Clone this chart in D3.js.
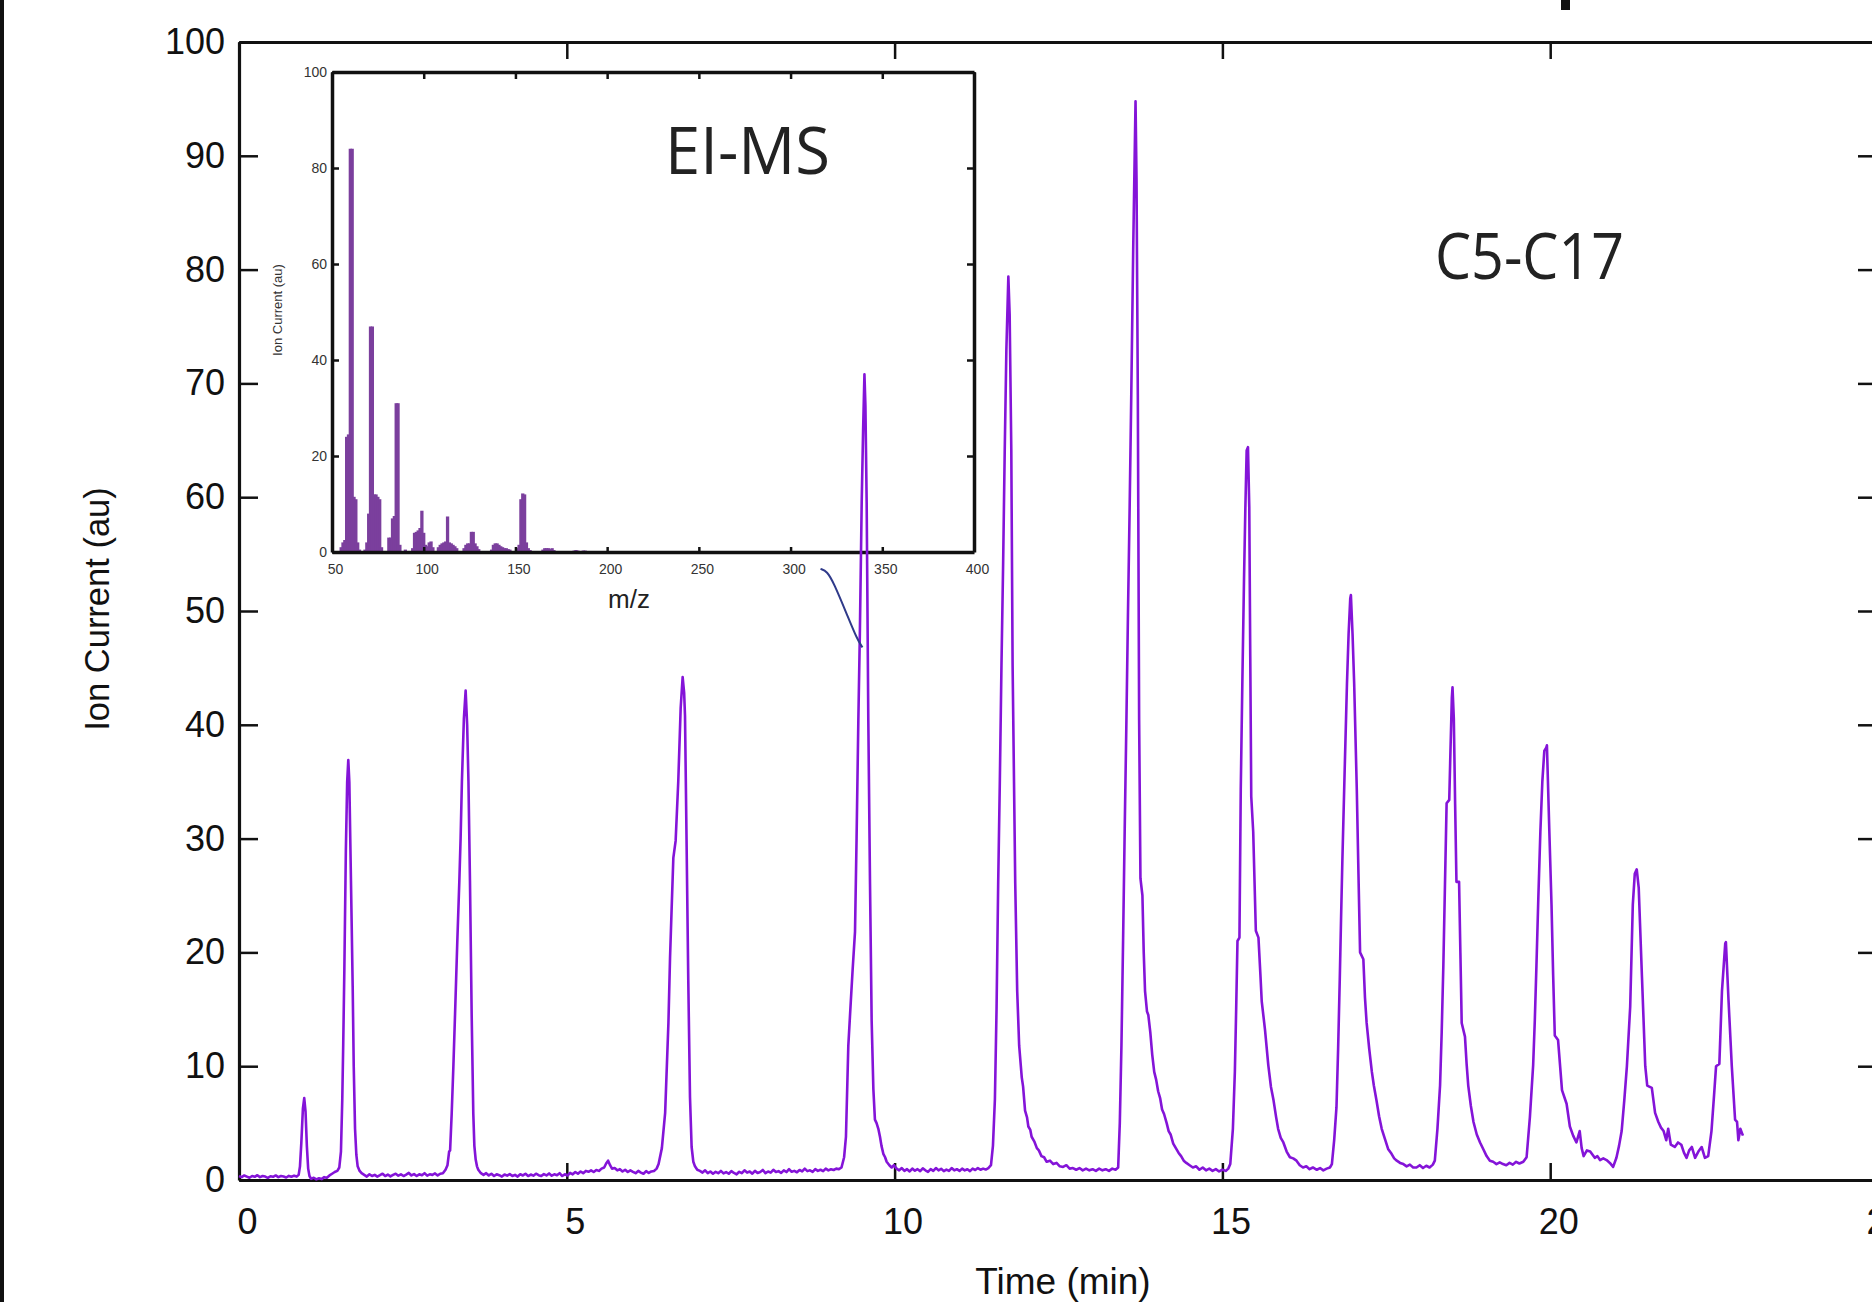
<!DOCTYPE html>
<html>
<head>
<meta charset="utf-8">
<script src="https://cdn.jsdelivr.net/npm/d3@7"></script>
<style>
  html, body { margin: 0; padding: 0; background: #fff; }
  svg { display: block; }
</style>
</head>
<body>
<svg id="chart" width="1872" height="1302"></svg>
<script>
// total ion chromatogram, C5-C17 (time in min, ion current in au)
var timeMin = [
  0.00, 0.04, 0.08, 0.12, 0.16, 0.20, 0.24, 0.28, 0.32, 0.36, 0.40, 0.44, 0.48, 0.52, 0.56, 0.60, 0.64, 0.68, 0.72, 0.76, 0.80, 0.84, 0.88, 0.91,
  0.93, 0.95, 0.975, 0.995, 1.015, 1.035, 1.055, 1.075, 1.10, 1.14, 1.18, 1.22, 1.26, 1.30, 1.34, 1.38, 1.42, 1.46, 1.50, 1.53,
  1.555, 1.575, 1.59, 1.607, 1.63, 1.65, 1.667, 1.683, 1.70, 1.72, 1.734, 1.75, 1.77, 1.79, 1.81, 1.84, 1.87,
  1.91, 1.95, 1.99, 2.03, 2.07, 2.11, 2.15, 2.19, 2.23, 2.27, 2.31, 2.35, 2.39, 2.43, 2.47, 2.51, 2.55, 2.59, 2.63, 2.67, 2.71, 2.75, 2.79, 2.83, 2.87, 2.91, 2.95, 2.99, 3.03, 3.07, 3.11,
  3.15, 3.18, 3.205, 3.22, 3.244, 3.27, 3.295, 3.33, 3.361, 3.38, 3.40, 3.43, 3.457, 3.48, 3.50, 3.523, 3.549, 3.574, 3.59, 3.61, 3.63, 3.65, 3.69,
  3.73, 3.77, 3.81, 3.85, 3.89, 3.93, 3.97, 4.01, 4.05, 4.09, 4.13, 4.17, 4.21, 4.25, 4.29, 4.33, 4.37, 4.41, 4.45, 4.49, 4.53, 4.57, 4.61, 4.65, 4.69, 4.73, 4.77, 4.81, 4.85, 4.89, 4.93, 4.97,
  5.01, 5.05, 5.09, 5.13, 5.17, 5.21, 5.25, 5.29, 5.33, 5.37, 5.41, 5.45, 5.49, 5.53, 5.57, 5.60, 5.63, 5.66, 5.69, 5.73, 5.77, 5.81, 5.85, 5.89, 5.93, 5.97, 6.01, 6.05, 6.09, 6.13, 6.17, 6.21, 6.25, 6.29, 6.33,
  6.37, 6.40, 6.45, 6.50, 6.55, 6.575, 6.60, 6.625, 6.66, 6.70, 6.737, 6.767, 6.79, 6.803, 6.828, 6.853, 6.879, 6.904, 6.93, 6.955, 6.99, 7.03,
  7.07, 7.11, 7.15, 7.19, 7.23, 7.27, 7.31, 7.35, 7.39, 7.43, 7.47, 7.51, 7.55, 7.59, 7.63, 7.67, 7.71, 7.75, 7.79, 7.83, 7.87, 7.91, 7.95, 7.99,
  8.03, 8.07, 8.11, 8.15, 8.19, 8.23, 8.27, 8.31, 8.35, 8.39, 8.43, 8.47, 8.51, 8.55, 8.59, 8.63, 8.67, 8.71, 8.75, 8.79, 8.83, 8.87, 8.91, 8.95, 8.99, 9.03, 9.07, 9.11, 9.15,
  9.19, 9.23, 9.258, 9.294, 9.33, 9.36, 9.396, 9.42, 9.447, 9.47, 9.498, 9.52, 9.54, 9.555, 9.574, 9.599, 9.625, 9.65, 9.676, 9.70, 9.725, 9.752, 9.777, 9.80, 9.828, 9.855, 9.879, 9.92, 9.955, 9.99, 10.03,
  10.07, 10.11, 10.15, 10.19, 10.23, 10.27, 10.31, 10.35, 10.39, 10.43, 10.47, 10.51, 10.55, 10.59, 10.63, 10.67, 10.71, 10.75, 10.79, 10.83, 10.87, 10.91, 10.95, 10.99,
  11.03, 11.07, 11.11, 11.15, 11.19, 11.23, 11.27, 11.31, 11.35, 11.39, 11.43,
  11.47, 11.50, 11.53, 11.555, 11.58, 11.605, 11.63, 11.655, 11.68, 11.705, 11.735, 11.755, 11.78, 11.80, 11.84, 11.87, 11.90, 11.94, 11.96, 11.99, 12.02, 12.04, 12.07, 12.09, 12.13, 12.17, 12.20, 12.24, 12.28, 12.32, 12.37, 12.42, 12.47, 12.52, 12.57, 12.62, 12.67, 12.72, 12.77, 12.82, 12.87, 12.92, 12.97, 13.02, 13.07, 13.12, 13.17, 13.22, 13.27, 13.32, 13.37,
  13.41, 13.435, 13.46, 13.485, 13.51, 13.535, 13.56, 13.585, 13.61, 13.64, 13.675, 13.69, 13.71, 13.73, 13.75, 13.78, 13.80, 13.82, 13.85, 13.87, 13.90, 13.93, 13.96, 13.99, 14.02, 14.05, 14.08, 14.11, 14.15, 14.18, 14.21, 14.25, 14.29, 14.33, 14.37, 14.41, 14.45, 14.50, 14.55, 14.60, 14.65, 14.70, 14.75, 14.80, 14.85, 14.90, 14.95, 15.00, 15.05, 15.09,
  15.12, 15.16, 15.19, 15.21, 15.23, 15.26, 15.28, 15.305, 15.33, 15.35, 15.37, 15.39, 15.41, 15.425, 15.44, 15.47, 15.51, 15.55, 15.58, 15.60, 15.65, 15.70, 15.74, 15.78, 15.82, 15.85, 15.89, 15.93, 15.98, 16.03, 16.08, 16.13, 16.18, 16.23, 16.28, 16.33, 16.38, 16.44, 16.49, 16.54, 16.59, 16.64,
  16.67, 16.705, 16.74, 16.765, 16.79, 16.81, 16.83, 16.865, 16.90, 16.925, 16.95, 16.96, 16.985, 17.01, 17.05, 17.075, 17.10, 17.15, 17.175, 17.20, 17.24, 17.28, 17.31, 17.35, 17.39, 17.43, 17.48, 17.53, 17.58, 17.62, 17.66, 17.71, 17.76, 17.81, 17.86, 17.91, 17.96, 18.01, 18.06, 18.11, 18.16, 18.21,
  18.24, 18.28, 18.32, 18.345, 18.37, 18.395, 18.42, 18.46, 18.48, 18.50, 18.51, 18.53, 18.55, 18.57, 18.61, 18.63, 18.65, 18.70, 18.725, 18.75, 18.79, 18.83, 18.88, 18.93, 18.98, 19.03, 19.08, 19.13, 19.18, 19.23, 19.28, 19.33, 19.38, 19.43, 19.48, 19.53, 19.59,
  19.64, 19.69, 19.74, 19.765, 19.79, 19.82, 19.85, 19.88, 19.91, 19.94, 19.95, 19.985, 20.02, 20.045, 20.07, 20.12, 20.18, 20.25, 20.30, 20.35, 20.40, 20.45, 20.48, 20.51, 20.56, 20.61, 20.68, 20.72, 20.76, 20.81, 20.86, 20.91, 20.96,
  21.01, 21.05, 21.09, 21.13, 21.17, 21.22, 21.26, 21.29, 21.32, 21.35, 21.40, 21.45, 21.48, 21.55, 21.60, 21.65, 21.69, 21.73, 21.77, 21.80, 21.84, 21.90, 21.95, 22.00, 22.04, 22.08, 22.12, 22.16, 22.21, 22.26, 22.31, 22.36, 22.41,
  22.46, 22.50, 22.53, 22.58, 22.62, 22.67, 22.68, 22.72, 22.77, 22.82, 22.85, 22.87, 22.90, 22.94
];
var ionCurrent = [
  0.35, 0.25, 0.40, 0.30, 0.20, 0.35, 0.28, 0.42, 0.25, 0.35, 0.30, 0.18, 0.33, 0.28, 0.40, 0.25, 0.35, 0.30, 0.22, 0.36, 0.28, 0.38, 0.30, 0.45,
  1.2, 3.2, 6.3, 7.2, 6.0, 3.0, 1.0, 0.35, 0.10, 0.20, 0.05, 0.15, 0.08, 0.25, 0.20, 0.40, 0.55, 0.70, 0.80, 1.10,
  2.5, 7, 12, 18.5, 29, 35, 36.9, 35, 29, 22, 17, 10, 4.5, 2.2, 1.2, 0.8, 0.6,
  0.45, 0.30, 0.50, 0.35, 0.45, 0.30, 0.42, 0.55, 0.35, 0.48, 0.32, 0.45, 0.55, 0.38, 0.50, 0.35, 0.48, 0.62, 0.40, 0.52, 0.35, 0.50, 0.42, 0.60, 0.38, 0.50, 0.45, 0.58, 0.40, 0.55, 0.60,
  0.9, 1.3, 2.5, 2.6, 5.8, 10, 14.5, 21, 26.3, 30, 35, 40.5, 43.0, 40, 35, 26.3, 14.5, 5.8, 3.0, 1.8, 1.2, 0.9, 0.6,
  0.45, 0.60, 0.40, 0.55, 0.35, 0.50, 0.42, 0.30, 0.48, 0.38, 0.52, 0.35, 0.45, 0.30, 0.50, 0.40, 0.55, 0.35, 0.48, 0.38, 0.55, 0.42, 0.35, 0.52, 0.40, 0.58, 0.38, 0.50, 0.42, 0.60, 0.35, 0.50,
  0.40, 0.62, 0.50, 0.70, 0.55, 0.75, 0.60, 0.80, 0.72, 0.85, 0.70, 0.88, 0.80, 1.00, 1.10, 1.45, 1.70, 1.30, 1.00, 1.05, 0.85, 0.95, 0.75, 0.90, 0.70, 0.85, 0.72, 0.60, 0.80, 0.65, 0.55, 0.78, 0.62, 0.75, 0.80,
  1.0, 1.4, 2.8, 5.9, 13.8, 19.6, 24, 28.3, 29.8, 35, 41.5, 44.2, 42.8, 40.8, 29.2, 17.5, 7.3, 2.9, 1.6, 1.2, 0.9, 0.8,
  0.65, 0.85, 0.60, 0.75, 0.55, 0.72, 0.60, 0.80, 0.58, 0.70, 0.55, 0.78, 0.62, 0.50, 0.72, 0.60, 0.85, 0.65, 0.75, 0.55, 0.80, 0.62, 0.70, 0.88,
  0.60, 0.75, 0.65, 0.90, 0.70, 0.78, 0.62, 0.85, 0.70, 0.95, 0.72, 0.80, 0.68, 0.88, 0.75, 1.00, 0.78, 0.85, 0.72, 0.95, 0.80, 0.90, 0.78, 1.00, 0.85, 0.95, 0.88, 1.00, 0.95,
  1.1, 2.0, 3.8, 11.8, 15.5, 18.5, 21.8, 30, 40.4, 48, 59.5, 66, 70.8, 68, 59.5, 40.4, 26, 14, 8, 5.3, 5.0, 4.5, 3.8, 3.0, 2.3, 2.0, 1.6, 1.3, 1.1, 1.3, 1.0,
  0.85, 1.05, 0.80, 0.95, 0.75, 1.00, 0.82, 0.95, 0.78, 1.02, 0.85, 0.72, 0.95, 0.80, 1.05, 0.85, 0.98, 0.78, 0.92, 0.80, 1.05, 0.85, 0.95, 0.80,
  1.00, 0.85, 0.95, 0.78, 1.00, 0.88, 1.05, 0.90, 1.00, 0.92, 1.05,
  1.3, 3.0, 7.1, 15, 26.1, 35, 45.2, 54, 64.2, 73, 79.4, 76, 64.2, 45.2, 26.1, 16.6, 11.8, 9.0, 8.2, 6.1, 5.5, 4.7, 4.4, 3.8, 3.4, 2.8, 2.6, 2.1, 2.0, 1.6, 1.7, 1.4, 1.5, 1.2, 1.15, 1.3, 1.0, 1.05, 0.9, 1.05, 0.85, 1.0, 0.85, 0.95, 0.80, 1.00, 0.85, 0.95, 0.80, 1.00, 0.90,
  1.1, 5, 11.8, 21, 30.9, 40, 49.9, 59, 69.0, 82, 94.8, 88, 69.0, 40.4, 26.5, 25.0, 20, 16.6, 14.8, 14.5, 13.0, 11.0, 9.5, 8.8, 7.8, 7.2, 6.2, 5.8, 5.0, 4.3, 4.0, 3.2, 2.8, 2.4, 2.1, 1.7, 1.5, 1.3, 1.1, 1.2, 0.9, 1.1, 0.85, 1.0, 0.8, 0.95, 0.75, 0.9, 0.8, 1.0,
  1.4, 4.5, 9.5, 15, 21.0, 21.3, 34.3, 44, 52.9, 59, 64.1, 64.4, 59.1, 46, 33.7, 30.6, 21.9, 21.3, 18, 15.7, 13.2, 10.1, 8.2, 7.0, 5.5, 4.5, 3.7, 3.3, 2.5, 2.0, 1.9, 1.7, 1.3, 1.1, 1.2, 0.95, 1.1, 0.9, 1.05, 0.85, 1.0, 1.1,
  1.4, 3.5, 6.4, 11.5, 17.6, 23, 28.1, 36, 43.6, 48, 51.1, 51.4, 48, 43.6, 34.3, 27, 20.0, 19.4, 16, 13.8, 11.5, 9.5, 8.3, 7.0, 5.6, 4.5, 3.6, 2.7, 2.3, 1.9, 1.7, 1.5, 1.4, 1.2, 1.35, 1.1, 1.1, 1.3, 1.05, 1.25, 1.1, 1.35,
  1.7, 4.5, 8.3, 13, 18.8, 26, 33.1, 33.4, 38, 42.4, 43.3, 40.5, 33, 26.2, 26.2, 20, 13.8, 12.6, 10.2, 8.3, 6.5, 5.1, 4.0, 3.3, 2.7, 2.1, 1.7, 1.6, 1.4, 1.55, 1.4, 1.3, 1.5, 1.35, 1.6, 1.45, 1.6,
  2.0, 5.5, 10.1, 14, 18.8, 25, 30.6, 35, 37.7, 38.0, 38.2, 31, 24.2, 18, 12.7, 12.3, 7.9, 6.7, 4.7, 3.9, 3.3, 4.3, 2.8, 2.1, 2.6, 2.5, 1.95, 2.1, 1.75, 1.9, 1.75, 1.5, 1.15,
  1.95, 3.0, 4.3, 7, 10.0, 15.2, 24.2, 26.9, 27.3, 25.7, 17.8, 10.0, 8.3, 8.1, 5.9, 5.1, 4.6, 4.3, 3.5, 4.5, 3.1, 2.9, 3.3, 3.1, 2.4, 1.95, 2.6, 2.9, 1.95, 2.5, 2.9, 1.95, 2.1,
  4.3, 7.5, 10.0, 10.2, 16.6, 20.8, 20.9, 15.8, 10.0, 5.3, 5.1, 3.5, 4.5, 3.9
];

// EI-MS inset spectrum (m/z, relative intensity)
var msMz = [55, 56, 57, 58, 59, 60, 61, 62, 63, 64, 65,
  68, 69, 70, 71, 72, 73, 74, 75, 76, 77,
  81, 82, 83, 84, 85, 86, 87, 90,
  94, 95, 96, 97, 98, 99, 100, 101, 102, 103, 104, 105,
  108, 109, 110, 111, 112, 113, 114, 115, 116, 117, 118,
  122, 123, 124, 125, 126, 127, 128, 129, 130,
  137, 138, 139, 140, 141, 142, 143, 144, 145, 146, 147,
  151, 152, 153, 154, 155, 156, 157, 158,
  165, 166, 167, 168, 169, 170, 171,
  182, 183, 184, 187, 188];
var msIntensity = [1, 2, 2.5, 24, 24.5, 84, 84, 11.5, 11, 2, 0.5,
  0.5, 2, 8, 47, 47, 12, 12, 11.5, 11, 1,
  3, 3, 7, 7.5, 31, 31, 1.5, 0.5,
  0.8, 4, 4.2, 4.5, 5, 8.6, 4, 1.5, 1.2, 2, 2.2, 1,
  1, 1.5, 1.8, 2, 2.2, 7.4, 2, 1.8, 1.5, 1.2, 0.8,
  0.8, 1.5, 1.8, 1.8, 4.2, 4.2, 1.8, 1.2, 0.6,
  0.5, 1.5, 1.8, 1.8, 1.5, 1.2, 1, 0.8, 0.8, 0.6, 0.5,
  0.8, 1.5, 11, 12.2, 12, 2, 0.8, 0.4,
  0.5, 0.8, 0.8, 0.8, 0.6, 0.8, 0.4,
  0.3, 0.4, 0.3, 0.3, 0.3];

var timeTicks = [0, 5, 10, 15, 20, 25];
var currentTicks = [0, 10, 20, 30, 40, 50, 60, 70, 80, 90, 100];
var mzTicks = [50, 100, 150, 200, 250, 300, 350, 400];
var msTicks = [0, 20, 40, 60, 80, 100];

// leader from the inset to the peak it was taken from (time, current)
var leaderTime = [8.87, 8.97, 9.07, 9.28, 9.43, 9.51];
var leaderCurrent = [53.7, 53.5, 52.5, 49.6, 47.5, 46.8];

var svg = d3.select("#chart");
var font = '"Liberation Sans", Arial, Helvetica, sans-serif';

var x = d3.scaleLinear().domain([0, 25]).range([239, 1878]);
var y = d3.scaleLinear().domain([0, 100]).range([1180, 42]);

// page edge and clipped fragment from the figure above
svg.append("rect").attr("x", 0).attr("y", 0).attr("width", 4).attr("height", 1302).attr("fill", "#111");
svg.append("rect").attr("x", 1561).attr("y", 0).attr("width", 9).attr("height", 10).attr("fill", "#111");

function styleAxis(g, fs, width) {
  g.select(".domain").attr("stroke", "#111").attr("stroke-width", width);
  g.selectAll(".tick line").attr("stroke", "#111").attr("stroke-width", 2.5);
  g.selectAll(".tick text").attr("font-family", font).attr("font-size", fs).attr("fill", "#111");
}

var gBottom = svg.append("g").attr("transform", "translate(0,1180)")
  .call(d3.axisBottom(x).tickValues(timeTicks).tickSizeInner(-17).tickSizeOuter(0).tickPadding(28));
styleAxis(gBottom, 36, 3.2);
gBottom.selectAll(".tick text").attr("dx", 8);

var gTop = svg.append("g").attr("transform", "translate(0,42)")
  .call(d3.axisTop(x).tickValues(timeTicks).tickSizeInner(-17).tickSizeOuter(0).tickFormat(""));
styleAxis(gTop, 36, 3.2);

var gLeft = svg.append("g").attr("transform", "translate(239,0)")
  .call(d3.axisLeft(y).tickValues(currentTicks).tickSizeInner(-19).tickSizeOuter(0).tickPadding(14));
styleAxis(gLeft, 36, 3.2);

var gRight = svg.append("g").attr("transform", "translate(1878,0)")
  .call(d3.axisRight(y).tickValues(currentTicks).tickSizeInner(-20).tickSizeOuter(0).tickFormat(""));
styleAxis(gRight, 36, 3.2);

svg.append("text")
  .attr("x", 1063).attr("y", 1294)
  .attr("text-anchor", "middle")
  .attr("font-family", font).attr("font-size", 37).attr("fill", "#111")
  .text("Time (min)");

svg.append("text")
  .attr("transform", "translate(109,609) rotate(-90)")
  .attr("text-anchor", "middle")
  .attr("font-family", font).attr("font-size", 34.5).attr("fill", "#111")
  .text("Ion Current (au)");

// inset: EI mass spectrum
var mx = d3.scaleLinear().domain([50, 400]).range([332, 974]);
var my = d3.scaleLinear().domain([0, 100]).range([552, 72]);
var inset = svg.append("g");

inset.append("rect")
  .attr("x", mx(50)).attr("y", my(100))
  .attr("width", mx(400) - mx(50)).attr("height", my(0) - my(100))
  .attr("fill", "#fff");

inset.selectAll("line.stick")
  .data(msMz)
  .enter().append("line")
  .attr("class", "stick")
  .attr("x1", function(d) { return mx(d); })
  .attr("x2", function(d) { return mx(d); })
  .attr("y1", my(0))
  .attr("y2", function(d, i) { return my(msIntensity[i]); })
  .attr("stroke", "#7b3f9d")
  .attr("stroke-width", 3.3);

function styleInset(g) {
  g.select(".domain").attr("stroke", "#111").attr("stroke-width", 3.5);
  g.selectAll(".tick line").attr("stroke", "#111").attr("stroke-width", 2.5);
  g.selectAll(".tick text").attr("font-family", font).attr("font-size", 14).attr("fill", "#333");
}

var iBottom = inset.append("g").attr("transform", "translate(0," + my(0) + ")")
  .call(d3.axisBottom(mx).tickValues(mzTicks).tickSizeInner(-5).tickSizeOuter(0).tickPadding(12));
styleInset(iBottom);
iBottom.selectAll(".tick text").attr("dx", 3);

var iTop = inset.append("g").attr("transform", "translate(0," + my(100) + ")")
  .call(d3.axisTop(mx).tickValues(mzTicks).tickSizeInner(-7).tickSizeOuter(0).tickFormat(""));
styleInset(iTop);

var iLeft = inset.append("g").attr("transform", "translate(" + mx(50) + ",0)")
  .call(d3.axisLeft(my).tickValues(msTicks).tickSizeInner(-7).tickSizeOuter(0).tickPadding(5));
styleInset(iLeft);

var iRight = inset.append("g").attr("transform", "translate(" + mx(400) + ",0)")
  .call(d3.axisRight(my).tickValues(msTicks).tickSizeInner(-7).tickSizeOuter(0).tickFormat(""));
styleInset(iRight);

inset.append("text")
  .attr("transform", "translate(282,310) rotate(-90)")
  .attr("text-anchor", "middle")
  .attr("font-family", font).attr("font-size", 13).attr("fill", "#333")
  .text("Ion Current (au)");

inset.append("text")
  .attr("x", 629).attr("y", 608)
  .attr("text-anchor", "middle")
  .attr("font-family", font).attr("font-size", 26).attr("fill", "#222")
  .text("m/z");

// chromatogram trace, drawn over the inset like in the original figure
var trace = d3.line()
  .x(function(d) { return x(d); })
  .y(function(d, i) { return y(ionCurrent[i]); });

svg.append("path")
  .datum(timeMin)
  .attr("d", trace)
  .attr("fill", "none")
  .attr("stroke", "#8414d8")
  .attr("stroke-width", 2.6)
  .attr("stroke-linejoin", "round");

var leader = d3.line()
  .curve(d3.curveBasis)
  .x(function(d) { return x(d); })
  .y(function(d, i) { return y(leaderCurrent[i]); });

svg.append("path")
  .datum(leaderTime)
  .attr("d", leader)
  .attr("fill", "none")
  .attr("stroke", "#2f3a8a")
  .attr("stroke-width", 2);

svg.append("text")
  .attr("x", 665).attr("y", 174)
  .attr("font-family", '"Open Sans", "Noto Sans", sans-serif')
  .attr("font-size", 66).attr("fill", "#222")
  .attr("textLength", 165).attr("lengthAdjust", "spacingAndGlyphs")
  .text("EI-MS");

svg.append("text")
  .attr("x", 1435).attr("y", 279)
  .attr("font-family", '"Open Sans", "Noto Sans", sans-serif')
  .attr("font-size", 64).attr("fill", "#222")
  .attr("textLength", 189).attr("lengthAdjust", "spacingAndGlyphs")
  .text("C5-C17");
</script>
</body>
</html>
